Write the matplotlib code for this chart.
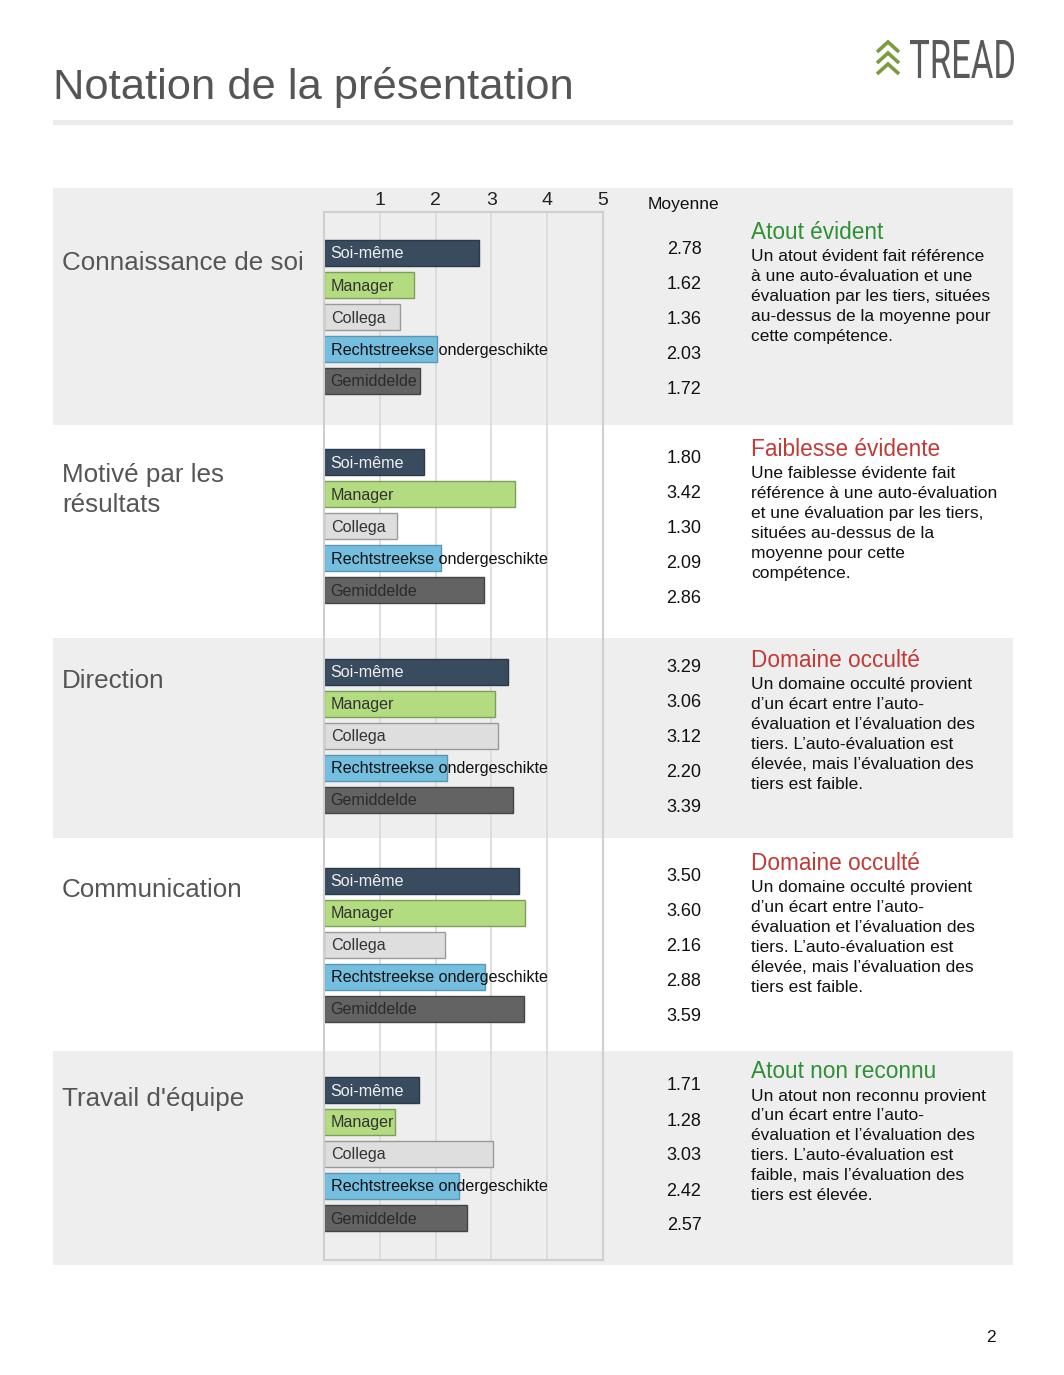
import matplotlib
matplotlib.use("Agg")
import matplotlib.pyplot as plt
from matplotlib.patches import Rectangle, PathPatch
from matplotlib.textpath import TextPath
from matplotlib.font_manager import FontProperties
from matplotlib.transforms import Affine2D

plt.rcParams["font.family"] = ["Liberation Sans", "DejaVu Sans"]

# ---- data -------------------------------------------------------------
categories = ["Connaissance de soi", "Motivé par les\nrésultats", "Direction",
              "Communication", "Travail d'équipe"]
sources = ["Soi-même", "Manager", "Collega", "Rechtstreekse ondergeschikte", "Gemiddelde"]

scores_connaissance = [2.78, 1.62, 1.36, 2.03, 1.72]
scores_motive = [1.80, 3.42, 1.30, 2.09, 2.86]
scores_direction = [3.29, 3.06, 3.12, 2.20, 3.39]
scores_communication = [3.50, 3.60, 2.16, 2.88, 3.59]
scores_equipe = [1.71, 1.28, 3.03, 2.42, 2.57]
scores = [scores_connaissance, scores_motive, scores_direction,
          scores_communication, scores_equipe]

scale_ticks = [1, 2, 3, 4, 5]

desc_titles = ["Atout évident", "Faiblesse évidente", "Domaine occulté",
               "Domaine occulté", "Atout non reconnu"]
desc_kinds = ["strength", "weakness", "weakness", "weakness", "strength"]
desc_texts = [
    ["Un atout évident fait référence", "à une auto-évaluation et une",
     "évaluation par les tiers, situées", "au-dessus de la moyenne pour",
     "cette compétence."],
    ["Une faiblesse évidente fait", "référence à une auto-évaluation",
     "et une évaluation par les tiers,", "situées au-dessus de la",
     "moyenne pour cette", "compétence."],
    ["Un domaine occulté provient", "d’un écart entre l’auto-",
     "évaluation et l’évaluation des", "tiers. L’auto-évaluation est",
     "élevée, mais l’évaluation des", "tiers est faible."],
    ["Un domaine occulté provient", "d’un écart entre l’auto-",
     "évaluation et l’évaluation des", "tiers. L’auto-évaluation est",
     "élevée, mais l’évaluation des", "tiers est faible."],
    ["Un atout non reconnu provient", "d’un écart entre l’auto-",
     "évaluation et l’évaluation des", "tiers. L’auto-évaluation est",
     "faible, mais l’évaluation des", "tiers est élevée."],
]

# ---- styling ------------------------------------------------------------
W, H = 1064, 1375
BAR_FACE = ["#394b5e", "#b3db7f", "#dedede", "#74bfe0", "#636363"]
BAR_EDGE = ["#2c3a48", "#7f9e5a", "#9a9a9a", "#5a97b2", "#444444"]
BAR_TEXT = ["#f0f0f0", "#333333", "#333333", "#111111", "#2a2a2a"]
KIND_COLOR = {"strength": "#2f8f35", "weakness": "#c23a36"}
GREY_TXT = "#555555"
BAND = "#eeeeee"

sec_step = 209.25
bar_y0, bar_step = 253, 32
avg_y0, avg_step = 249, 35
label_y = [263, 475, 681, 890, 1099]
desc_y = [232, 449, 660, 863, 1072]
bands = [(188, 425), (638, 838), (1051, 1265)]

fig = plt.figure(figsize=(W / 100, H / 100), dpi=100)

# background / page layer in pixel coordinates
bg = fig.add_axes([0, 0, 1, 1])
bg.set_xlim(0, W)
bg.set_ylim(H, 0)
bg.axis("off")

bg.text(53, 87, "Notation de la présentation", fontsize=31.3, color=GREY_TXT,
        va="center", ha="left")
bg.add_patch(Rectangle((53, 120), 960, 5, facecolor="#ebebeb", edgecolor="none"))

# logo: chevrons + condensed word mark
for k in range(3):
    top = 42 + 11 * k
    bg.plot([877, 888, 899], [top + 10, top, top + 10], color="#7b9b3d",
            lw=2.6, solid_joinstyle="miter", solid_capstyle="butt")
tp = TextPath((0, 0), "TREAD", size=50, prop=FontProperties(family="Roboto", weight="normal"))
bb = tp.get_extents()
tr = Affine2D().translate(-bb.x0, -bb.y0).scale(104 / bb.width, -38 / bb.height).translate(910, 78)
bg.add_patch(PathPatch(tr.transform_path(tp), facecolor="#5a5a5a", edgecolor="none"))

for y0, y1 in bands:
    bg.add_patch(Rectangle((53, y0), 960, y1 - y0, facecolor=BAND, edgecolor="none", zorder=0))

bg.text(683, 204, "Moyenne", fontsize=12.5, color="#111111", ha="center", va="center")

for s, cat in enumerate(categories):
    for i, line in enumerate(cat.split("\n")):
        bg.text(62, label_y[s] + 30 * i, line, fontsize=18.7, color=GREY_TXT,
                ha="left", va="center")
    for r, v in enumerate(scores[s]):
        bg.text(684, avg_y0 + avg_step * r + sec_step * s, f"{v:.2f}", fontsize=13,
                color="#111111", ha="center", va="center")
    bg.text(751, desc_y[s], desc_titles[s], fontsize=16.3,
            color=KIND_COLOR[desc_kinds[s]], ha="left", va="center")
    for i, line in enumerate(desc_texts[s]):
        bg.text(751, desc_y[s] + 24 + 20 * i, line, fontsize=12.5,
                color="#111111", ha="left", va="center")

bg.text(991, 1338, "2", fontsize=12.5, color="#111111", ha="center", va="center")

# bar chart layer
ax = fig.add_axes([324 / W, 1 - 1260 / H, 279 / W, 1048 / H])
ax.set_facecolor("none")
ax.set_xlim(0, 5)
ax.set_ylim(1260, 212)
ax.set_yticks([])
ax.xaxis.tick_top()
ax.set_xticks(scale_ticks)
ax.set_xticklabels([str(t) for t in scale_ticks], fontsize=14, color="#222222")
ax.tick_params(axis="x", length=0, pad=2)
ax.grid(axis="x", color="#d9d9d9", lw=1.2)
ax.set_axisbelow(True)
for sp in ax.spines.values():
    sp.set_color("#cfcfcf")
    sp.set_linewidth(1.5)

for s, vals in enumerate(scores):
    for r, v in enumerate(vals):
        y = bar_y0 + bar_step * r + sec_step * s
        ax.barh(y, v, height=26, left=0, color=BAR_FACE[r], edgecolor=BAR_EDGE[r],
                linewidth=1, zorder=2)
        ax.text(0.12, y + 1, sources[r], fontsize=11.6, color=BAR_TEXT[r],
                ha="left", va="center", zorder=3)

fig.savefig("out.png", dpi=100)
